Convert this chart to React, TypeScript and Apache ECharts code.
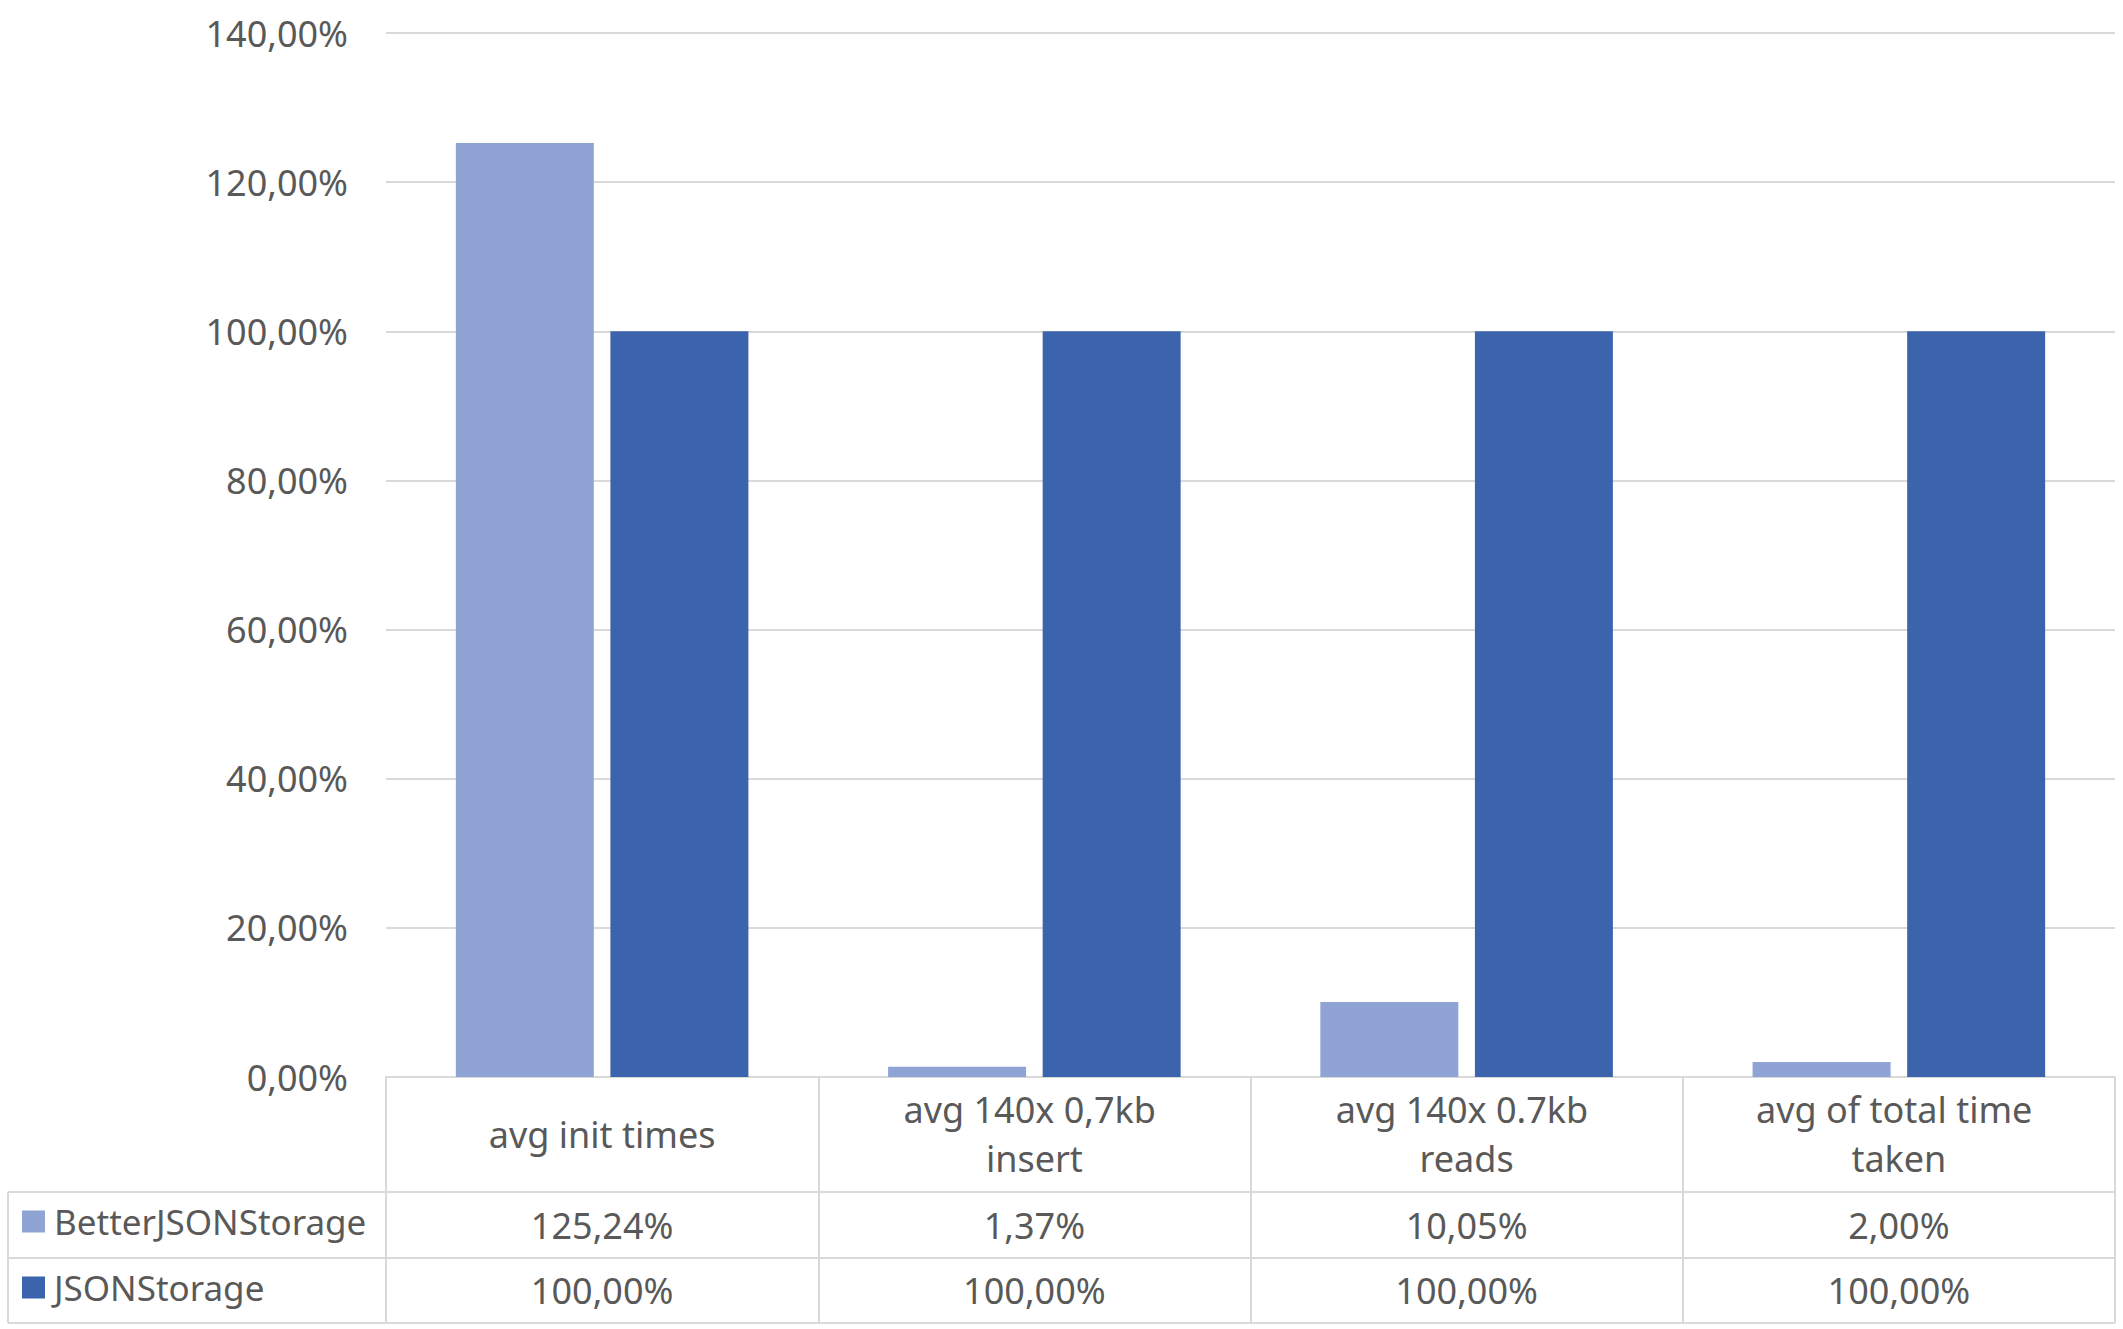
import React, { useEffect, useRef } from "react";
import * as echarts from "echarts";

const categories = [
  "avg init times",
  "avg 140x 0,7kb insert",
  "avg 140x 0.7kb reads",
  "avg of total time taken",
];
const seriesNames = ["BetterJSONStorage", "JSONStorage"];
const betterJSONStorage = [125.24, 1.37, 10.05, 2.0];
const jsonStorage = [100.0, 100.0, 100.0, 100.0];
const yMin = 0;
const yMax = 140;
const yInterval = 20;

const fmt = (v: number) => v.toFixed(2).replace(".", ",") + "%";

const W = 2123;
const H = 1329;
const GRID_LEFT = 386;
const GRID_RIGHT = 8;
const GRID_TOP = 33;
const GRID_BOTTOM = 252;
const TABLE_LEFT = 8;
const TEXT = "#595959";
const LINE = "#D9D9D9";
const FONT = "Noto Sans";
const FS = 36;

export default function App() {
  const ref = useRef<HTMLDivElement>(null);
  useEffect(() => {
    if (!ref.current) return;
    const chart = echarts.init(ref.current, undefined, { renderer: "svg" });
    const axisY0 = H - GRID_BOTTOM;
    const row1 = axisY0 + 115;
    const row2 = axisY0 + 181;
    const row3 = axisY0 + 246;
    const right = W - GRID_RIGHT;
    const lineStyle = { stroke: LINE, lineWidth: 2 };
    chart.setOption({
      animation: false,
      backgroundColor: "#ffffff",
      textStyle: { fontFamily: FONT, color: TEXT },
      grid: {
        left: GRID_LEFT,
        right: GRID_RIGHT,
        top: GRID_TOP,
        bottom: GRID_BOTTOM,
        containLabel: false,
      },
      legend: {
        data: seriesNames,
        orient: "vertical",
        left: 17,
        top: axisY0 + 122,
        height: 400,
        padding: 5,
        itemWidth: 23,
        itemHeight: 22,
        itemGap: 31,
        icon: "rect",
        textStyle: {
          fontFamily: FONT,
          fontSize: 35,
          color: TEXT,
          lineHeight: 22,
          padding: [0, 0, 0, 4],
        },
      },
      xAxis: [
        {
          type: "category",
          data: categories,
          position: "bottom",
          axisLine: { show: true, lineStyle: { color: LINE, width: 2 } },
          axisTick: {
            show: true,
            interval: 0,
            length: 246,
            lineStyle: { color: LINE, width: 2 },
          },
          axisLabel: {
            interval: 0,
            margin: 57,
            verticalAlign: "middle",
            fontFamily: FONT,
            fontSize: FS,
            color: TEXT,
            lineHeight: 49,
            width: 290,
            overflow: "break",
          },
        },
        {
          type: "category",
          data: categories,
          position: "bottom",
          axisLine: { show: false },
          axisTick: { show: false },
          axisLabel: {
            interval: 0,
            margin: 148,
            verticalAlign: "middle",
            fontFamily: FONT,
            fontSize: FS,
            color: TEXT,
            formatter: (_v: string, i: number) => fmt(betterJSONStorage[i]),
          },
        },
        {
          type: "category",
          data: categories,
          position: "bottom",
          axisLine: { show: false },
          axisTick: { show: false },
          axisLabel: {
            interval: 0,
            margin: 213,
            verticalAlign: "middle",
            fontFamily: FONT,
            fontSize: FS,
            color: TEXT,
            formatter: (_v: string, i: number) => fmt(jsonStorage[i]),
          },
        },
      ],
      yAxis: {
        type: "value",
        min: yMin,
        max: yMax,
        interval: yInterval,
        axisLine: { show: false },
        axisTick: { show: false },
        splitLine: { lineStyle: { color: LINE, width: 2 } },
        axisLabel: {
          margin: 38,
          fontFamily: FONT,
          fontSize: FS,
          color: TEXT,
          formatter: (v: number) => fmt(v),
        },
      },
      series: [
        {
          name: seriesNames[0],
          type: "bar",
          xAxisIndex: 0,
          data: betterJSONStorage,
          barWidth: 138,
          barGap: "12%",
          itemStyle: { color: "#8FA3D4" },
        },
        {
          name: seriesNames[1],
          type: "bar",
          xAxisIndex: 0,
          data: jsonStorage,
          barWidth: 138,
          barGap: "12%",
          itemStyle: { color: "#3C64AC" },
        },
      ],
      graphic: [
        { type: "line", shape: { x1: TABLE_LEFT, y1: row1, x2: right, y2: row1 }, style: lineStyle },
        { type: "line", shape: { x1: TABLE_LEFT, y1: row2, x2: right, y2: row2 }, style: lineStyle },
        { type: "line", shape: { x1: TABLE_LEFT, y1: row3, x2: right, y2: row3 }, style: lineStyle },
        { type: "line", shape: { x1: TABLE_LEFT, y1: row1, x2: TABLE_LEFT, y2: row3 }, style: lineStyle },
      ],
    });
    return () => chart.dispose();
  }, []);
  return (
    <div
      ref={ref}
      style={{ position: "fixed", left: 0, top: 0, width: W, height: H, background: "#fff" }}
    />
  );
}
